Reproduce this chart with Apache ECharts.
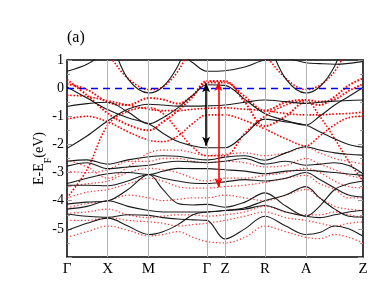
<!DOCTYPE html>
<html><head><meta charset="utf-8">
<script src="https://cdn.jsdelivr.net/npm/echarts@6/dist/echarts.min.js"></script>
<style>html,body{margin:0;padding:0;background:#fff}#c{width:374px;height:303px}</style>
</head><body><div id="c"></div>
<script>
// k-path sample positions (path length units)
const kPoints = [0,20,41,61,82,96,111,126,140,158,178,198,219,239,253,268,282,296.3];
// high-symmetry labels and positions
const symLabels = ['Γ','X','M','Γ','Z','R','A','Z'];
const symPos = [0,40.6,81.6,140,158.3,198.3,239.3,296.3];
const yTicks = [1,0,-1,-2,-3,-4,-5];

// black (solid) bands, E-EF in eV at kPoints
const black1 = [0.6,0.85,1.3,1.6,1.7,1.6,1.3,0.9,0.6, 0.62,0.75,1.0,1.05,0.9,0.87,0.85,0.88,0.95];
const black2 = [2.5,2.2,1.75,0.33,-0.17,0.05,0.79,2.0,2.5, 2.5,2.2,1.75,0.33,-0.17,0.05,0.79,2.0,2.5];
const black3 = [0.04,-0.35,-0.77,-1.05,-1.27,-1.6,-1.9,-2.05,-2.12, -2.12,-1.65,-1.1,-1.2,-1.31,-1.55,-1.8,-2.0,-2.1];
const black4 = [-0.65,-0.55,-0.5,-0.85,-1.27,-1.05,-0.7,-0.25,0.12, 0.1,-0.4,-0.9,-1.15,-1.31,-1.0,-0.6,-0.3,0.02];
const black5 = [-2.14,-1.7,-1.16,-0.75,-0.57,-0.6,-0.64,-0.64,-0.63, -0.6,-0.5,-0.42,-0.48,-0.54,-0.5,-0.46,-0.44,-0.42];
const black6 = [-2.6,-2.55,-2.7,-2.55,-2.44,-2.4,-2.42,-2.5,-2.55, -2.45,-2.4,-2.56,-2.3,-2.08,-2.2,-2.3,-2.35,-2.38];
const black7 = [-2.77,-2.65,-2.86,-2.8,-2.74,-2.65,-2.6,-2.62,-2.65, -2.6,-2.5,-2.7,-2.6,-2.74,-2.7,-2.65,-2.75,-3.04];
const black8 = [-3.39,-3.2,-3.04,-3.0,-3.07,-2.95,-2.85,-2.86,-2.86, -2.9,-2.95,-3.04,-2.95,-2.92,-2.95,-3.0,-3.05,-3.1];
const black9 = [-3.45,-3.45,-3.47,-3.3,-3.07,-3.2,-3.3,-3.38,-3.39, -3.33,-3.25,-3.3,-3.2,-3.0,-3.25,-3.55,-3.8,-3.87];
const black10 = [-4.12,-4.05,-4.0,-3.6,-3.07,-3.6,-4.1,-4.15,-4.13, -4.23,-4.05,-3.72,-4.19,-4.55,-4.19,-3.6,-3.4,-3.3];
const black11 = [-4.3,-4.2,-4.0,-4.2,-4.35,-4.4,-4.4,-4.4,-4.4, -4.35,-4.3,-4.17,-4.4,-4.55,-4.6,-4.5,-4.4,-4.35];
const black12 = [-5.06,-4.8,-4.62,-4.9,-5.2,-5.1,-4.85,-4.5,-4.4, -4.35,-4.25,-4.0,-3.8,-3.5,-3.9,-4.3,-4.55,-4.58];
const black13 = [-4.47,-4.55,-4.59,-4.5,-4.52,-4.6,-4.65,-4.68,-4.7, -5.36,-5.0,-4.55,-4.9,-5.2,-5.13,-4.9,-5.0,-5.26];

// red (dotted) bands
const red1 = [0.3,-0.25,-0.9,-1.3,-1.5,-1.2,-0.8,-0.3,0.25, 0.25,-0.5,-1.35,-1.0,-0.5,-0.6,-0.3,0.1,0.35];
const red2 = [0.15,-0.05,-0.5,-0.6,-0.35,-0.4,-0.55,-0.25,0.2, 0.2,-0.3,-0.8,-0.5,-0.42,-0.48,-0.4,-0.1,0.15];
const red3 = [2.5,2.0,1.2,0.35,-0.05,0.05,0.6,1.6,2.5, 2.5,2.0,1.2,0.35,-0.05,0.1,0.6,1.5,2.5];
const red4 = [-0.25,-0.3,-0.45,-0.6,-0.75,-0.8,-0.8,-0.75,-0.72, -0.7,-0.75,-0.8,-0.9,-0.95,-0.95,-0.92,-0.9,-0.85];
const red5 = [-1.1,-1.0,-1.2,-1.55,-1.85,-1.9,-1.7,-1.25,-0.95, -0.95,-1.15,-1.45,-1.8,-2.05,-1.7,-1.3,-1.05,-1.0];
const red6 = [-3.9,-2.9,-1.3,-0.82,-0.69,-0.9,-1.5,-2.1,-2.4, -2.4,-1.6,-1.0,-0.6,-0.45,-1.0,-1.8,-2.6,-3.3];
const red7 = [-2.55,-2.8,-3.2,-2.8,-2.3,-2.2,-2.2,-2.3,-2.4, -2.35,-2.3,-2.4,-2.3,-2.1,-2.3,-2.5,-2.6,-2.7];
const red8 = [-2.95,-3.0,-2.9,-2.6,-2.6,-2.5,-2.5,-2.6,-2.65, -2.6,-2.65,-2.8,-2.75,-2.5,-2.7,-2.9,-3.1,-3.2];
const red9 = [-3.5,-3.4,-3.3,-3.0,-2.85,-2.9,-3.0,-3.2,-3.3, -3.2,-3.2,-3.1,-3.0,-2.85,-3.0,-3.3,-3.5,-3.55];
const red10 = [-3.9,-3.7,-3.6,-3.4,-3.2,-3.3,-3.5,-3.55,-3.55, -3.5,-3.45,-3.35,-3.2,-3.1,-3.4,-3.6,-3.9,-3.9];
const red11 = [-4.25,-4.1,-4.0,-3.8,-3.9,-4.0,-3.95,-3.9,-3.9, -3.8,-3.9,-4.0,-3.8,-3.6,-3.9,-4.2,-4.3,-4.35];
const red12 = [-4.45,-4.4,-4.3,-4.5,-4.6,-4.55,-4.5,-4.5,-4.55, -4.5,-4.4,-4.2,-4.4,-4.5,-4.5,-4.4,-4.5,-4.6];
const red13 = [-4.7,-4.7,-4.6,-4.7,-4.75,-4.8,-4.9,-4.85,-4.8, -4.7,-4.55,-4.4,-4.6,-4.7,-4.8,-4.9,-4.8,-4.75];
const red14 = [-5.3,-5.1,-4.9,-5.05,-5.25,-5.2,-5.1,-5.3,-5.45, -5.5,-5.3,-4.9,-5.1,-5.3,-5.35,-5.2,-5.3,-5.5];

// gap arrows: [k, Etop, Ebottom]
const blackArrow = [139.3, 0.17, -2.05];
const redArrow = [151.6, 0.22, -3.52];

const blackBands = [black1,black2,black3,black4,black5,black6,black7,black8,black9,black10,black11,black12,black13];
const redStrong = [red1,red2,red3,red4,red5,red6];
const redWeak = [red7,red8,red9,red10,red11,red12,red13,red14];

const serif = '"Liberation Serif","DejaVu Serif",serif';
const toPts = b => b.map((e,i)=>[kPoints[i], e]);
const series = [];
redWeak.forEach(b => series.push({
  type:'line', data: toPts(b), smooth:0.35, symbol:'none', clip:true, silent:true,
  lineStyle:{color:'#ff1a1a', width:1.3, type:[1.3,2.2], cap:'butt', opacity:0.85}, z:2
}));
redStrong.forEach((b,i) => series.push({
  type:'line', data: toPts(b), smooth:0.35, symbol:'none', clip:true, silent:true,
  lineStyle:{color:'#ff0000', width: i<2?2.0:1.6, type:[1.6,1.7], cap:'butt'}, z:2
}));
blackBands.forEach(b => series.push({
  type:'line', data: toPts(b), smooth:0.35, symbol:'none', clip:true, silent:true,
  lineStyle:{color:'#1a1a1a', width:1.1}, z:3
}));
// high-symmetry vertical lines, Fermi level, arrows
series.push({
  type:'line', data:[], silent:true, z:1,
  markLine:{ silent:true, symbol:'none', label:{show:false}, animation:false,
    lineStyle:{color:'#b4b4b4', width:1, type:'solid'},
    data: symPos.slice(1,-1).map(p=>({xAxis:p})) }
});
series.push({
  type:'line', data:[], silent:true, z:5,
  markLine:{ silent:true, symbol:'none', label:{show:false}, animation:false,
    lineStyle:{color:'#0000ff', width:1.4, type:[7,5]},
    data:[{yAxis:0}] }
});
series.push({
  type:'line', data:[], silent:true, z:6,
  markLine:{ silent:true, symbol:['arrow','arrow'], symbolSize:[6,9], label:{show:false}, animation:false,
    data:[
      [{coord:[blackArrow[0],blackArrow[1]], lineStyle:{color:'#000',width:1.6,type:'solid'}, itemStyle:{color:'#000'}},
       {coord:[blackArrow[0],blackArrow[2]]}],
      [{coord:[redArrow[0],redArrow[1]], lineStyle:{color:'#ff0000',width:1.6,type:'solid'}, itemStyle:{color:'#ff0000'}},
       {coord:[redArrow[0],redArrow[2]]}]
    ] }
});

const chart = echarts.init(document.getElementById('c'), null, {renderer:'canvas'});
chart.setOption({
  animation:false,
  backgroundColor:'#fff',
  grid:{left:67, top:60, right:11, bottom:46, show:true, borderColor:'#000', borderWidth:1.5, backgroundColor:'transparent'},
  graphic:[{type:'text', left:67, top:30, style:{text:'(a)', font:'16px '+serif, fill:'#000'}}],
  xAxis:{type:'value', min:0, max:296.3,
    axisLine:{show:false}, splitLine:{show:false},
    axisTick:{show:false},
    axisLabel:{show:true, customValues:symPos, formatter:(v)=>{const i=symPos.findIndex(p=>Math.abs(p-v)<0.01);return i>=0?symLabels[i]:'';},
      fontFamily:serif, fontSize:15, color:'#000', margin:5, showMinLabel:true, showMaxLabel:true}
  },
  yAxis:[{type:'value', min:-6, max:1, interval:1,
    axisLine:{show:false}, splitLine:{show:false},
    axisTick:{show:true, inside:true, length:5, lineStyle:{color:'#999'}},
    minorTick:{show:true, splitNumber:2, length:3, lineStyle:{color:'#999'}},
    axisLabel:{formatter:(v)=> yTicks.includes(v)? String(v):'', fontFamily:serif, fontSize:14, color:'#000', margin:3},
    name:'{a|E-E}{b|F}{a|(eV)}', nameLocation:'middle', nameGap:19, nameRotate:90, nameMoveOverlap:false,
    nameTextStyle:{rich:{a:{fontFamily:serif, fontSize:14, color:'#000', lineHeight:18}, b:{fontFamily:serif, fontSize:10, color:'#000', lineHeight:18, verticalAlign:'bottom', padding:[0,0,-5,0]}}}
  },{type:'value', min:-6, max:1, interval:1, position:'right',
    axisLine:{show:false}, splitLine:{show:false}, axisLabel:{show:false},
    axisTick:{show:true, inside:true, length:5, lineStyle:{color:'#999'}},
    minorTick:{show:true, splitNumber:2, length:3, lineStyle:{color:'#999'}}
  }],
  series: series
});
</script></body></html>
